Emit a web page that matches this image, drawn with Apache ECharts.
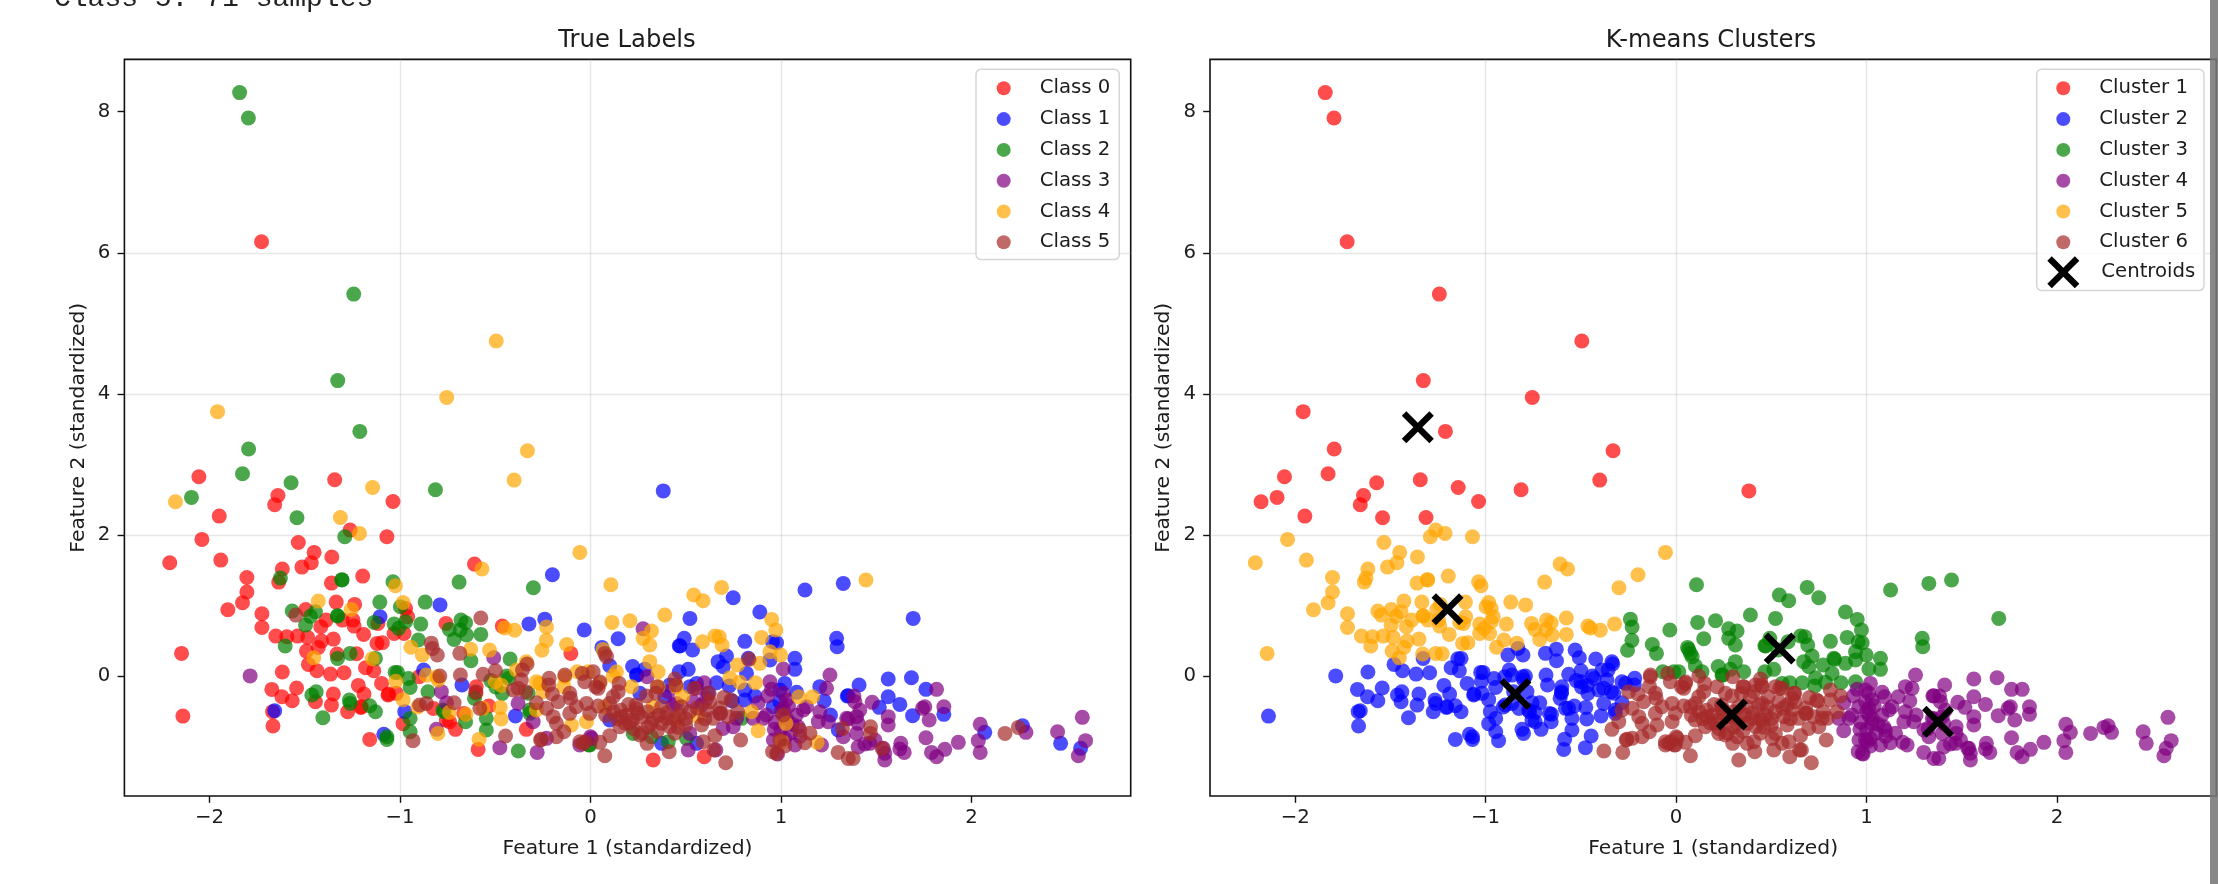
<!DOCTYPE html>
<html><head><meta charset="utf-8">
<style>html,body{margin:0;padding:0;background:#fff;overflow:hidden}#c{width:2218px;height:884px}</style>
<script src="https://cdn.jsdelivr.net/npm/echarts@6/dist/echarts.min.js"></script>
</head><body><div id="c"></div>
<script>
// each point: [feature 1, feature 2, k-means cluster]
const class0 = [[-1.727,6.157,1],[-2.056,2.827,1],[-1.949,2.27,1],[-2.04,1.94,5],[-1.941,1.647,5],[-2.209,1.609,5],[-2.147,.325,5],[-2.14,-.563,2],[-1.804,1.4,5],[-1.804,1.194,5],[-1.827,1.043,5],[-1.904,.944,5],[-1.725,.887,5],[-1.725,.693,5],[-1.652,.57,5],[-1.594,.561,5],[-1.538,.57,5],[-1.485,.552,5],[-1.641,2.563,1],[-1.658,2.431,1],[-1.534,1.897,5],[-1.451,1.756,5],[-1.466,1.609,5],[-1.515,1.548,5],[-1.358,1.69,5],[-1.618,1.52,5],[-1.637,1.335,5],[-1.36,1.321,5],[-1.196,1.42,5],[-1.343,2.785,1],[-1.037,2.478,1],[-1.069,1.977,5],[-1.262,2.072,5],[-1.495,.948,5],[-1.335,1.052,5],[-1.238,1.019,5],[-1.388,.797,5],[-1.416,.703,5],[-1.303,.797,5],[-1.247,.797,5],[-1.241,.712,5],[-1.191,.594,5],[-1.35,.528,5],[-1.412,.5,5],[-1.429,.41,5],[-1.491,.358,5],[-1.331,.316,5],[-1.228,.32,5],[-1.481,.169,2],[-1.436,.08,2],[-1.365,.032,2],[-1.294,.051,2],[-1.181,.122,2],[-1.138,.08,2],[-1.121,.467,5],[-1.093,.476,5],[-1.116,.75,5],[-1.618,.061,2],[-1.673,-.185,2],[-1.62,-.289,2],[-1.566,-.345,2],[-1.543,-.166,2],[-1.444,-.36,2],[-1.35,-.251,2],[-1.36,-.407,2],[-1.275,-.501,2],[-1.219,-.128,2],[-1.189,-.251,2],[-1.206,-.44,2],[-1.097,-.1,2],[-1.06,-.251,2],[-1.031,.608,5],[-.979,.608,5],[-.971,.962,5],[-.96,.844,5],[-.609,1.59,5],[-1.669,-.5,2],[-1.667,-.704,2],[-1.159,-.893,2],[-.984,-.67,2],[-.759,.75,5],[-.463,.712,5],[-.103,.325,3],[-.9,-.005,2],[-.825,-.454,2],[-.74,-.643,2],[-.709,-.751,2],[-.757,-.62,2],[-.6,-.147,2],[-.602,-.24,2],[-.534,-.42,2],[-.59,-1.035,2],[-.665,-.525,2],[-.337,-.751,6],[.329,-1.185,6],[.597,-1.138,6],[-1.063,-.265,2],[-1.019,-.241,2],[-1.203,-.43,2]];
const class1 = [[-.2,1.44,5],[-.79,1.012,5],[-1.105,.845,5],[-.323,.743,5],[-.24,.81,3],[-.033,.656,3],[.145,.533,3],[.06,.41,3],[.101,.15,3],[.221,.14,3],[.244,.018,3],[-.675,-.123,2],[-.876,.089,2],[-.975,-.5,2],[-1.658,-.487,2],[-.394,-.56,2],[-1.085,-.82,2],[.522,.821,3],[.492,.538,3],[.466,.434,3],[.47,.43,3],[.536,.373,3],[.749,1.114,3],[1.126,1.223,3],[.889,.911,3],[.81,.496,3],[.956,.491,3],[.977,.477,3],[.714,.288,3],[.67,.208,3],[.697,.137,3],[.828,.255,3],[.942,.231,3],[.819,.042,3],[1.073,.255,3],[1.073,.099,3],[.513,.099,3],[.466,.066,3],[.662,-.09,3],[.728,-.137,3],[.81,-.194,6],[.863,-.279,6],[.744,-.35,6],[.81,-.335,6],[.959,-.43,4],[.994,-.194,4],[1.02,-.1,4],[.994,-.359,4],[1.082,-.227,4],[1.204,-.146,4],[1.227,-.35,4],[1.348,-.279,4],[1.26,-.548,4],[1.301,-.76,4],[.285,.099,3],[.241,.019,3],[.259,-.241,6],[.39,-.288,6],[.416,-.123,6],[.618,-.241,6],[.557,-.1,3],[.522,-.146,6],[.101,-.619,6],[.373,-.949,6],[.557,-.949,6],[1.327,1.317,3],[1.292,.538,3],[1.295,.42,3],[1.694,.821,3],[1.563,-.038,4],[1.685,-.019,4],[1.41,-.123,4],[1.353,-.274,4],[1.761,-.184,4],[1.563,-.288,4],[1.624,-.397,4],[1.516,-.439,4],[1.691,-.557,4],[1.855,-.538,4],[2.07,-.793,4],[2.268,-.699,4],[2.468,-.949,4],[2.573,-1.02,4],[.382,2.627,1]];
const class2 = [[-1.842,8.27,1],[-1.796,7.91,1],[-1.243,5.415,1],[-1.327,4.19,1],[-1.211,3.47,1],[-1.795,3.22,1],[-1.827,2.87,1],[-1.572,2.742,1],[-2.095,2.535,1],[-1.541,2.247,1],[-.814,2.643,1],[-1.29,1.977,5],[-.69,1.335,5],[-.3,1.255,5],[-1.628,1.392,5],[-1.305,1.364,5],[-1.305,1.37,5],[-1.037,1.34,5],[-1.106,1.052,5],[-.868,1.052,5],[-1.566,.925,5],[-1.444,.915,5],[-1.47,.85,5],[-1.496,.726,5],[-1.328,.859,5],[-1.328,.855,5],[-1.136,.764,5],[-1.031,.74,5],[-.998,.986,5],[-.971,.774,5],[-1.007,.68,5],[-.891,.74,5],[-.741,.665,5],[-.68,.797,5],[-.656,.76,5],[-.684,.656,5],[-.651,.585,5],[-.716,.523,5],[-.576,.594,5],[-.904,.514,5],[-1.603,.429,5],[-1.262,.325,5],[-1.328,.254,2],[-1.129,.254,2],[-.628,.221,2],[-.422,.245,2],[-1.026,.056,2],[-1.013,.056,2],[-.956,-.03,2],[-.947,-.157,2],[-.853,-.218,2],[-.431,-.03,2],[-.524,-.06,2],[-.497,-.15,2],[-.463,-.242,2],[-1.463,-.265,2],[-1.44,-.218,2],[-1.266,-.336,2],[-1.262,-.383,2],[-1.159,-.416,2],[-1.129,-.501,2],[-1.405,-.586,2],[-.947,-.596,2],[-.947,-.784,2],[-1.069,-.856,2],[-1.069,-.893,2],[-.769,-.501,2],[-.656,-.643,2],[-.609,-.312,2],[-.547,-.596,2],[-.547,-.761,2],[-.379,-1.058,6],[-.319,-.478,2],[-.009,-.973,6],[.32,-.855,6],[.408,-.925,6],[-.004,-.97,6],[.793,-.595,6],[.504,-.88,6],[.224,-.81,6],[-.44,.005,2],[-.327,-.24,2],[-.319,-.524,2],[-.774,-.477,2]];
const class3 = [[-1.787,.006,2],[-.508,.264,2],[-.783,-.217,2],[-.756,-.373,2],[-.809,-.751,2],[-.476,-1.01,2],[-.28,-1.077,6],[-.38,-.383,2],[-.301,-.642,6],[-.231,-.878,6],[-.056,-.973,6],[0,-.855,6],[.276,.675,3],[.005,-.878,6],[.513,-1.044,6],[.658,-1.044,6],[.557,-.17,6],[.597,-.09,3],[.609,-.312,6],[.434,-.406,6],[.539,-.359,6],[.583,-.406,6],[.679,-.524,6],[.696,-.737,6],[.749,-.713,6],[.942,-.076,3],[.95,-.184,4],[.88,-.373,4],[.93,-.279,4],[1.012,.104,3],[1.257,.019,4],[1.239,-.17,4],[.924,-.548,4],[.907,-.595,4],[.854,-.595,4],[.965,-.751,4],[.96,-.902,4],[.982,-1.1,4],[1.073,-.973,4],[1.117,-.477,4],[1.134,-.43,4],[1.204,-.501,4],[1.196,-.642,4],[1.248,-.642,4],[1.213,-.973,4],[1.09,-.713,4],[1.029,-.335,4],[1.012,-.453,4],[1.012,-.241,4],[1.345,-.595,4],[1.327,-.855,4],[.451,-.383,6],[.521,-.808,6],[.767,-.595,6],[.408,-.217,6],[.297,-.005,6],[1.817,-.184,4],[1.383,-.279,4],[1.388,-.359,4],[1.479,-.368,4],[1.414,-.477,4],[1.353,-.604,4],[1.397,-.571,4],[1.563,-.571,4],[1.563,-.69,4],[1.397,-.808,4],[1.405,-1,4],[1.44,-.959,4],[1.467,-.949,4],[1.493,-.902,4],[1.405,-.666,4],[1.537,-1.02,4],[1.545,-1.185,4],[1.545,-1.09,4],[1.629,-.949,4],[1.624,-1.03,4],[1.647,-1.077,4],[1.743,-.453,4],[1.755,-.43,4],[1.855,-.43,4],[1.778,-.619,4],[1.761,-.869,4],[1.79,-1.077,4],[1.817,-1.138,4],[1.86,-1.034,4],[1.931,-.935,4],[2.046,-.68,4],[2.036,-.911,4],[2.046,-1.077,4],[2.286,-.793,4],[2.452,-.784,4],[2.582,-.581,4],[2.599,-.911,4],[2.561,-1.124,4],[1,-.5,4],[1.03,-.6,4],[1.06,-.68,4],[1,-.75,4],[1.05,-.8,4],[.97,-.65,4],[1.08,-.55,4],[1.1,-.85,4],[1.02,-.88,4],[1.04,-.42,4]];
const class4 = [[-1.958,3.75,1],[-.495,4.75,1],[-.755,3.95,1],[-.331,3.196,1],[-.401,2.78,1],[-2.179,2.473,1],[-1.313,2.251,1],[-1.144,2.676,1],[-1.213,2.025,5],[-.57,1.52,5],[-.056,1.756,5],[.107,1.298,3],[-1.024,1.283,5],[-1.429,1.066,5],[-.984,1.047,5],[-1.256,.948,5],[.113,.764,3],[.207,.788,3],[-.45,.685,5],[-.398,.653,5],[-.231,.7,3],[-.232,.51,3],[-.255,.37,3],[-.125,.452,3],[.066,.382,3],[-.943,.413,5],[-.883,.304,2],[-1.453,.264,5],[-1.146,.25,2],[-.629,.385,2],[-.53,.372,2],[-.337,.207,2],[-1.022,-.07,2],[-.984,-.33,2],[-.907,-.435,2],[-.862,.018,2],[-.8,-.052,2],[-.806,-.005,2],[-.801,-.808,2],[-.741,-.51,2],[-.654,-.536,2],[-.474,-.44,2],[-.469,-.605,2],[-.585,-.89,2],[-.5,-.076,2],[-.468,-.128,2],[-.564,-.453,2],[-.389,.09,2],[-.266,-.1,2],[-.284,-.076,2],[-.249,-.217,6],[-.135,-.005,6],[-.14,-.146,6],[-.07,.066,3],[-.012,.066,3],[-.284,-.477,6],[-.1,-.69,6],[-.021,-.642,6],[.688,1.26,3],[.542,1.152,3],[.591,1.072,3],[.39,.869,3],[.32,.642,3],[.276,.538,3],[.311,.444,3],[.588,.491,3],[.653,.571,3],[.676,.562,3],[.691,.444,3],[.951,.807,3],[.973,.656,3],[.898,.552,3],[.942,.349,3],[.998,.302,3],[.311,.208,3],[.355,.066,3],[.136,.066,3],[.119,.005,6],[.215,-.146,6],[.049,-.1,6],[.355,-.146,6],[.451,-.146,6],[.483,-.288,6],[.329,-.43,6],[.075,-.43,6],[.565,-.571,6],[.451,-.619,6],[.772,.16,3],[.889,.184,3],[.732,-.019,3],[.784,-.085,3],[.866,-.09,3],[.845,-.501,6],[.88,-.77,4],[1.094,-.288,4],[1.166,-.288,4],[1.026,-.666,4],[1.003,-.925,4],[1.19,-.935,4],[1.446,1.364,3]];
const class5 = [[-1.547,.868,5],[-.836,.47,5],[-.804,.302,2],[-.83,.396,2],[-.576,.826,5],[-.686,.326,2],[-.791,.005,2],[-.683,.019,2],[-.564,.028,2],[-.499,.08,2],[-.602,-.217,2],[-.716,-.373,2],[-.862,-.383,2],[-.897,-.406,2],[-.932,-.911,2],[-.581,-.453,2],[-.446,-.845,2],[-.258,-.892,6],[-.179,-.855,6],[-.14,-.784,6],[-.333,.175,2],[-.357,.09,2],[-.406,-.194,2],[-.38,-.17,2],[-.363,-.052,2],[-.34,-.217,2],[-.284,-.373,2],[-.217,-.028,2],[-.219,-.123,2],[-.2,-.25,6],[-.17,-.359,6],[-.231,-.453,6],[-.196,-.571,6],[-.179,-.666,6],[-.109,-.241,6],[-.105,-.312,6],[-.074,-.43,6],[-.109,-.524,6],[-.021,-.383,6],[-.03,-.076,6],[.014,.066,3],[.028,-.146,6],[-.004,-.524,6],[-.038,-.95,6],[.04,-.17,6],[.084,.279,3],[.075,.325,3],[.145,-.217,6],[.119,-.288,6],[.101,-.383,6],[.04,-.42,6],[.238,-.406,6],[.25,-.524,6],[.163,-.571,6],[.206,-.666,6],[.154,-.713,6],[.224,-.737,6],[.343,-.241,6],[.294,-.279,6],[.373,-.43,6],[.443,-.038,6],[.478,-.43,6],[.32,-.666,6],[.373,-.666,6],[.417,-.713,6],[.443,-.807,6],[.5,-.69,6],[.583,-.69,6],[.609,-.477,6],[.644,-.595,6],[.626,-.359,6],[.399,-.595,6],[.101,-.84,6],[.049,-.935,6],[.075,-1.124,6],[.259,-.831,6],[.297,-.949,6],[.413,-1.067,6],[.653,-.84,6],[.592,-.925,6],[.648,-1.044,6],[.71,-1.223,6],[.788,-.902,6],[.832,.241,3],[.772,-.501,6],[.723,-.571,6],[1.012,-.548,4],[.994,-.902,4],[.956,-1.067,4],[.977,-1.091,4],[1.02,-.987,4],[1.125,-.94,4],[1.152,-.807,4],[1.099,-.76,4],[1.323,-.737,4],[1.3,-1.077,4],[1.353,-1.162,4],[1.47,-.713,4],[1.47,-.808,4],[1.531,-1.02,4],[1.379,-1.162,4],[2.176,-.808,4],[2.246,-.723,4],[-.056,-.926,6],[-.028,-.926,6],[-.262,-.9,6],[.16,-.48,6],[.19,-.55,6],[.22,-.62,6],[.18,-.66,6],[.14,-.6,6],[.24,-.46,6],[.27,-.58,6],[.3,-.5,6],[.33,-.6,6],[.36,-.55,6],[.4,-.52,6],[.44,-.6,6],[.47,-.55,6],[.5,-.6,6],[.46,-.72,6],[.52,-.5,6],[.3,-.72,6],[.35,-.78,6],[.27,-.8,6],[.2,-.4,6],[.12,-.5,6],[.08,-.55,6],[.56,-.45,6],[.6,-.6,6],[.68,-.45,6],[.7,-.3,6],[.351,-.146,6],[.448,-.123,6],[.544,-.17,6],[.623,-.241,6],[.737,-.335,6],[.684,-.524,6],[.05,-.08,6],[.15,-.1,6],[-.135,.019,6],[-.044,.042,6]];
const centroidX = [-1.356,-.844,.544,1.375,-1.2,.293];
const centroidY = [3.53,-.25,.396,-.643,.95,-.54];
const classNames = ['Class 0','Class 1','Class 2','Class 3','Class 4','Class 5'];
const clusterNames = ['Cluster 1','Cluster 2','Cluster 3','Cluster 4','Cluster 5','Cluster 6'];
const colors = ['#ff0000','#0000ff','#008000','#800080','#ffa500','#a52a2a'];
const xExtent = [-2.447,2.836], yExtent = [-1.695,8.74];
const xTicks = [-2,-1,0,1,2], yTicks = [0,2,4,6,8];

const classes = [class0,class1,class2,class3,class4,class5];
const allPts = classes.flat();
const font = '"DejaVu Sans"', ink = '#1c1c1c';
const X_PATH = 'path://M14 0L50 36L86 0L100 14L64 50L100 86L86 100L50 64L14 100L0 86L36 50L0 14Z';
const fmt = v => String(v).replace('-', '\u2212');
const axisBase = (ticks, ext, name) => ({
  type:'value', min:ext[0], max:ext[1], name, nameLocation:'middle',
  nameTextStyle:{fontFamily:font,fontSize:20.3,color:ink},
  axisLine:{show:false,onZero:false},
  axisTick:{show:true,length:6.8,lineStyle:{color:'#111',width:1.4},customValues:ticks},
  axisLabel:{fontFamily:font,fontSize:19.7,color:ink,formatter:fmt,customValues:ticks},
  splitLine:{show:true,showMinLine:false,showMaxLine:false,lineStyle:{color:'rgba(176,176,176,.3)',width:1.4}}
});
const grids = [{left:124.4,top:59.4,width:1006.3,height:736.6},{left:1210,top:59.4,width:1006.3,height:736.6}]
  .map(g => ({...g,show:true,backgroundColor:'#fff',borderColor:'#111',borderWidth:1.6}));
const xAxes = [0,1].map(i => { const a = axisBase(xTicks,xExtent,'Feature 1 (standardized)');
  a.gridIndex=i; a.nameGap=43; a.axisLabel.margin=12; return a; });
const yAxes = [0,1].map(i => { const a = axisBase(yTicks,yExtent,'Feature 2 (standardized)');
  a.gridIndex=i; a.nameGap=36; a.axisLabel.margin=14; return a; });
const scatter = (name,i,axis,data) => ({name,type:'scatter',xAxisIndex:axis,yAxisIndex:axis,symbol:'circle',symbolSize:15,
  data,silent:true,itemStyle:{color:colors[i],opacity:.7,borderWidth:0}});
const series = [
  ...classNames.map((n,i)=>scatter(n,i,0,classes[i].map(p=>[p[0],p[1]]))),
  ...clusterNames.map((n,i)=>scatter(n,i,1,allPts.filter(p=>p[2]===i+1).map(p=>[p[0],p[1]]))),
  {name:'Centroids',type:'scatter',xAxisIndex:1,yAxisIndex:1,symbol:X_PATH,symbolSize:32,z:5,silent:true,
   data:centroidX.map((x,i)=>[x,centroidY[i]]),itemStyle:{color:'#000',opacity:1}}
];
const legendBase = {orient:'vertical',selectedMode:false,icon:'circle',itemWidth:14,itemHeight:14,itemGap:10.8,
  backgroundColor:'rgba(255,255,255,.8)',borderColor:'#d6d6d6',borderWidth:1.5,borderRadius:5,
  textStyle:{fontFamily:font,fontSize:19.7,color:ink,padding:[0,0,0,24]}};
const option = {
  animation:false, backgroundColor:'#fff',
  title:[
    {text:'True Labels',left:622,top:24,textAlign:'center',textStyle:{fontFamily:font,fontSize:24.3,fontWeight:'normal',color:ink}},
    {text:'K-means Clusters',left:1706,top:24,textAlign:'center',textStyle:{fontFamily:font,fontSize:24.3,fontWeight:'normal',color:ink}}
  ],
  grid:grids, xAxis:xAxes, yAxis:yAxes, series,
  legend:[
    {...legendBase,data:classNames,left:976,top:69.3,padding:[9,9,7.3,20.7]},
    {...legendBase,data:clusterNames,left:2036.7,top:69.3,padding:[9,16,38.3,19.6]},
    {orient:'vertical',selectedMode:false,data:['Centroids'],left:2047.3,top:256.3,padding:0,itemWidth:32,itemHeight:32,
     textStyle:{fontFamily:font,fontSize:19.7,color:ink,padding:[0,0,0,17]}}
  ],
  graphic:[
    {type:'text',z:100,silent:true,style:{text:'Class 5: 71 samples',x:54,y:-15,font:'28px "Liberation Mono"',fill:'#222'}},
    {type:'rect',z:100,silent:true,shape:{x:2210,y:0,width:8,height:884},style:{fill:'rgba(120,120,120,.88)'}}
  ]
};
echarts.init(document.getElementById('c'),null,{renderer:'canvas'}).setOption(option);
</script></body></html>
